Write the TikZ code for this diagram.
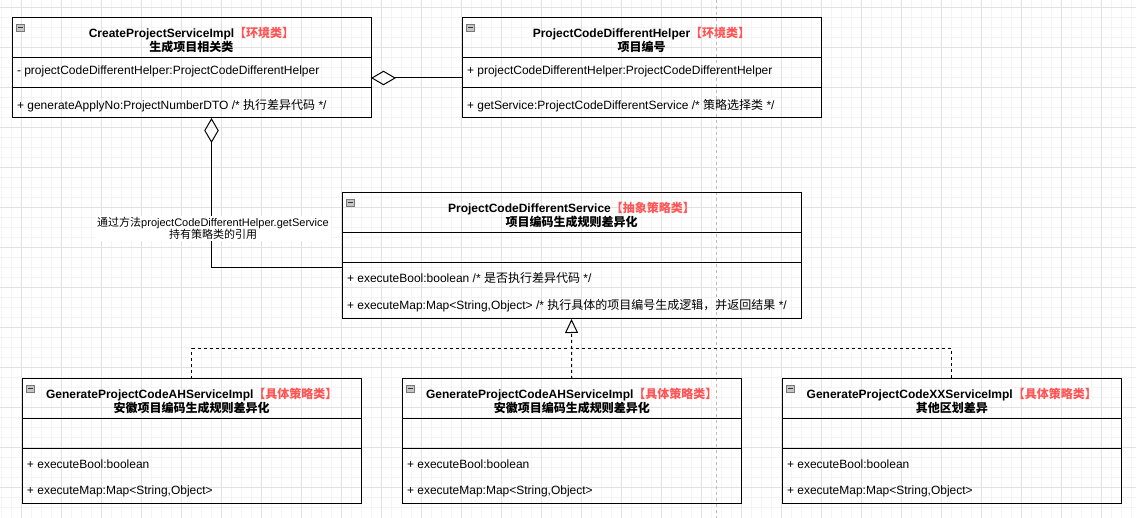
\documentclass[tikz,border=0pt]{standalone}
\usepackage{fontspec}
\setmainfont{Liberation Sans}
\newfontfamily\cjk{Noto Sans CJK SC}
\usetikzlibrary{arrows.meta}
\definecolor{tagred}{HTML}{FF5555}
\definecolor{gridmajor}{HTML}{E2E2E2}
\definecolor{gridminor}{HTML}{F4F4F4}
\definecolor{pagebreak}{HTML}{BDBDBD}
\definecolor{iconfill}{HTML}{C6C6C6}
\definecolor{iconline}{HTML}{787878}
\newcommand{\zh}[1]{{\cjk #1}}
\newcommand{\tagtxt}[1]{{\cjk\color{tagred}#1}}
\begin{document}
\begin{tikzpicture}[x=1pt,y=-1pt,
  every node/.style={inner sep=0pt, outer sep=0pt},
  classbox/.style={draw=black, line width=1pt, rectangle, anchor=north west},
  sepline/.style={draw=black, line width=1pt},
  titletext/.style={font=\fontsize{12}{14}\selectfont\bfseries, align=center},
  field/.style={anchor=west, font=\fontsize{12}{14}\selectfont, text height=9pt, text depth=3pt},
  iconbox/.style={draw=iconline, fill=iconfill, minimum size=7.5pt, line width=0.6pt, rectangle,
    path picture={\draw[line width=1pt, black!80] ([xshift=1.6pt]path picture bounding box.west) -- ([xshift=-1.6pt]path picture bounding box.east);}},
  agg/.style={draw=black, line width=1pt, -{Diamond[open, length=25pt, width=14.5pt]}},
  real/.style={draw=black, line width=1pt, dash pattern=on 3pt off 3pt},
  realarrow/.style={real, -{Triangle[open, length=14pt, width=13pt]}},
  edgelabel/.style={fill=white, align=center, inner xsep=1pt, inner ysep=1.5pt, font=\fontsize{11}{12}\selectfont}
]
\useasboundingbox (0,0) rectangle (1136,518);
\fill[white] (0,0) rectangle (1136,518);
% background grid
\foreach \x in {1,11,...,1131} \draw[gridminor, line width=1pt] (\x,0) -- (\x,518);
\foreach \y in {8,18,...,508} \draw[gridminor, line width=1pt] (0,\y) -- (1136,\y);
\foreach \x in {21,61,...,1101} \draw[gridmajor, line width=1pt] (\x,0) -- (\x,518);
\foreach \y in {8,48,...,488} \draw[gridmajor, line width=1pt] (0,\y) -- (1136,\y);
% page break
\draw[pagebreak, line width=1pt, dash pattern=on 3pt off 3pt] (716,0) -- (716,518);

% ---- class 1
\node[classbox, minimum width=359pt, minimum height=100pt] (c1) at (12,18) {};
\draw[sepline] (12,58) -- (371,58);
\draw[sepline] (12,88) -- (371,88);
\node[iconbox] (c1i) at (20.5,27.7) {};
\node[titletext] (c1t) at (191.5,39.5) {CreateProjectServiceImpl\tagtxt{【环境类】}\\\zh{生成项目相关类}};
\node[field] (c1a) at (17,72) {- projectCodeDifferentHelper:ProjectCodeDifferentHelper};
\node[field] (c1m) at (17,106.5) {+ generateApplyNo:ProjectNumberDTO /* \zh{执行差异代码} */};

% ---- class 2
\node[classbox, minimum width=359pt, minimum height=100pt] (c2) at (462,18) {};
\draw[sepline] (462,58) -- (821,58);
\draw[sepline] (462,88) -- (821,88);
\node[iconbox] (c2i) at (470.5,27.7) {};
\node[titletext] (c2t) at (641.5,39.5) {ProjectCodeDifferentHelper\tagtxt{【环境类】}\\\zh{项目编号}};
\node[field] (c2a) at (467,72) {+ projectCodeDifferentHelper:ProjectCodeDifferentHelper};
\node[field] (c2m) at (467,106.5) {+ getService:ProjectCodeDifferentService /* \zh{策略选择类} */};

% ---- class 3
\node[classbox, minimum width=459pt, minimum height=126pt] (c3) at (342,193) {};
\draw[sepline] (342,233) -- (801,233);
\draw[sepline] (342,263) -- (801,263);
\node[iconbox] (c3i) at (350.5,202.7) {};
\node[titletext] (c3t) at (571.5,214.5) {ProjectCodeDifferentService\tagtxt{【抽象策略类】}\\\zh{项目编码生成规则差异化}};
\node[field] (c3m1) at (347,280) {+ executeBool:boolean /* \zh{是否执行差异代码} */};
\node[field] (c3m2) at (347,306.5) {+ executeMap:Map<String,Object> /* \zh{执行具体的项目编号生成逻辑，并返回结果} */};

% ---- class 4
\node[classbox, minimum width=339.5pt, minimum height=125pt] (c4) at (22,379) {};
\draw[sepline] (22,419) -- (361.5,419);
\draw[sepline] (22,449) -- (361.5,449);
\node[iconbox] (c4i) at (30.5,388.7) {};
\node[titletext] (c4t) at (191.75,400.5) {GenerateProjectCodeAHServiceImpl\tagtxt{【具体策略类】}\\\zh{安徽项目编码生成规则差异化}};
\node[field] (c4m1) at (27,466) {+ executeBool:boolean};
\node[field] (c4m2) at (27,492) {+ executeMap:Map<String,Object>};

% ---- class 5
\node[classbox, minimum width=339.5pt, minimum height=125pt] (c5) at (402,379) {};
\draw[sepline] (402,419) -- (741.5,419);
\draw[sepline] (402,449) -- (741.5,449);
\node[iconbox] (c5i) at (410.5,388.7) {};
\node[titletext] (c5t) at (571.75,400.5) {GenerateProjectCodeAHServiceImpl\tagtxt{【具体策略类】}\\\zh{安徽项目编码生成规则差异化}};
\node[field] (c5m1) at (407,466) {+ executeBool:boolean};
\node[field] (c5m2) at (407,492) {+ executeMap:Map<String,Object>};

% ---- class 6
\node[classbox, minimum width=339.5pt, minimum height=125pt] (c6) at (782,379) {};
\draw[sepline] (782,419) -- (1121.5,419);
\draw[sepline] (782,449) -- (1121.5,449);
\node[iconbox] (c6i) at (790.5,388.7) {};
\node[titletext] (c6t) at (951.75,400.5) {GenerateProjectCodeXXServiceImpl\tagtxt{【具体策略类】}\\\zh{其他区划差异}};
\node[field] (c6m1) at (787,466) {+ executeBool:boolean};
\node[field] (c6m2) at (787,492) {+ executeMap:Map<String,Object>};

% ---- connectors
\draw[agg] ([yshift=-10pt]c2.west) -- ([yshift=-10pt]c1.east);
\draw[agg] ([yshift=-12pt]c3.west) -| ([xshift=20pt]c1.south);
\node[edgelabel] (lbl) at (213,228.7) {\zh{通过方法}projectCodeDifferentHelper.getService\\\zh{持有策略类的引用}};

\coordinate (j) at (571.5,349);
\draw[real] (c4.north) |- (j) -| (c6.north);
\draw[realarrow] (c5.north) -- (c3.south);
\end{tikzpicture}
\end{document}
